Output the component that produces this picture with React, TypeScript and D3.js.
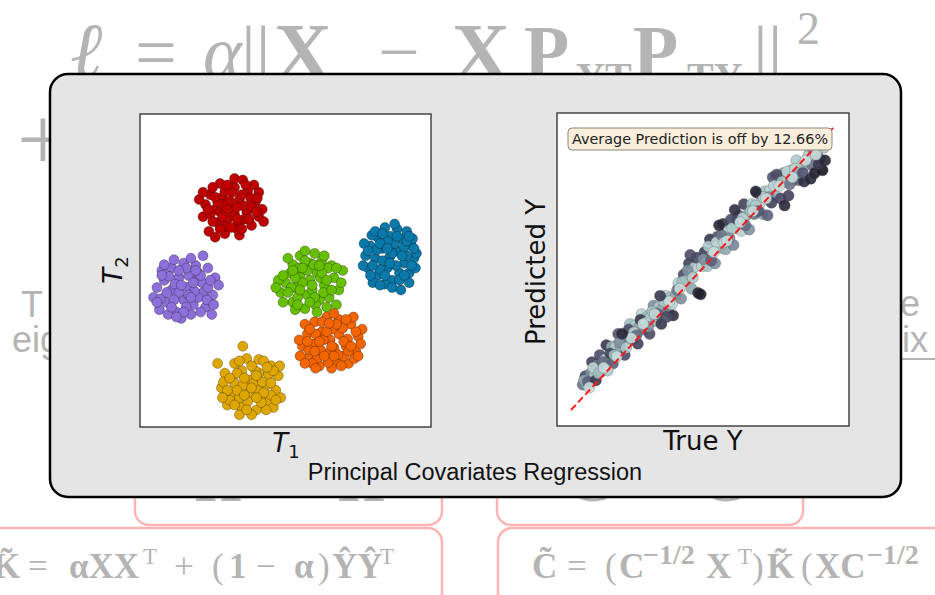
import * as d3 from 'd3';

// ---- left panel: PCovR latent projection (T1, T2), one array per cluster ----
const redCluster: [number, number][] = [
  [-1.12, 1.3], [-0.95, 1.45], [-1.3, 1.5], [-1.45, 1.25], [-0.8, 1.2], [-1.2, 1.05], [-0.98, 0.95], [-1.55, 1.55],
  [-1.65, 1.35], [-1.35, 1.78], [-1.05, 1.7], [-0.78, 1.62], [-0.62, 1.4], [-0.55, 1.1], [-0.7, 0.92], [-1.4, 0.98],
  [-1.58, 0.8], [-1.25, 0.75], [-0.95, 0.72], [-1.05, 1.88], [-1.25, 1.62], [-0.88, 1.85], [-1.5, 1.7], [-1.78, 1.45],
  [-1.7, 1.1], [-0.48, 1.25], [-0.65, 1.75], [-1.15, 1.42], [-0.85, 1.32], [-1.35, 1.2], [-1.05, 1.15], [-0.85, 1.05],
  [-1.55, 1.15], [-1.25, 0.9], [-0.45, 1.0], [-1.45, 0.68], [-1.0, 0.85], [-1.3, 1.35], [-0.72, 1.48], [-0.55, 1.6],
  [-1.2, 1.25], [-0.9, 1.55], [-1.4, 1.4], [-1.0, 1.3], [-0.7, 1.3], [-1.1, 1.6], [-1.5, 1.0], [-0.9, 0.85],
  [-1.3, 1.1], [-0.6, 1.2], [-1.2, 1.75], [-1.6, 1.25], [-0.75, 1.05], [-1.0, 1.05], [-1.35, 0.85], [-0.82, 1.75],
  [-1.45, 1.5], [-0.58, 1.48], [-1.12, 0.88], [-1.7, 1.6],
];
const purpleCluster: [number, number][] = [
  [-2.03, -0.34], [-1.85, -0.2], [-2.2, -0.15], [-2.35, -0.4], [-1.7, -0.45], [-2.1, -0.6], [-1.9, -0.7], [-2.5, -0.2],
  [-2.65, -0.35], [-2.45, -0.65], [-2.25, -0.85], [-1.95, -0.9], [-1.65, -0.75], [-1.5, -0.5], [-1.45, -0.15], [-1.6, 0.05],
  [-1.85, 0.1], [-2.1, 0.15], [-2.35, 0.05], [-2.55, 0.0], [-2.72, -0.55], [-2.6, -0.8], [-2.15, -0.98], [-1.8, -0.55],
  [-2.0, -0.1], [-2.28, -0.28], [-1.72, -0.25], [-2.4, -0.12], [-1.95, 0.25], [-1.7, 0.3], [-1.38, -0.3], [-1.52, -0.9],
  [-2.42, -0.9], [-2.2, -0.45], [-1.88, -0.42], [-2.58, -0.58], [-2.05, -0.75], [-1.62, -0.6], [-2.3, 0.22], [-1.8, -0.05],
  [-2.0, -0.5], [-2.3, -0.6], [-1.75, -0.1], [-2.15, -0.3], [-1.9, -0.25], [-2.45, -0.45], [-1.6, -0.35], [-2.05, 0.05],
  [-2.35, -0.75], [-1.75, -0.85], [-2.55, -0.1], [-1.55, -0.2], [-2.2, 0.0], [-1.95, -0.55], [-2.65, -0.65], [-1.85, 0.0],
  [-2.1, -0.85], [-1.48, -0.7], [-2.5, 0.12], [-2.25, -0.95],
];
const greenCluster: [number, number][] = [
  [0.5, -0.2], [0.65, -0.05], [0.3, -0.1], [0.2, -0.35], [0.8, -0.3], [0.45, -0.5], [0.7, -0.6], [0.1, -0.05],
  [0.0, -0.25], [-0.1, -0.45], [0.15, -0.65], [0.4, -0.78], [0.9, -0.55], [1.0, -0.15], [0.95, 0.1], [0.75, 0.2],
  [0.5, 0.15], [0.3, 0.3], [0.15, 0.12], [-0.15, -0.2], [0.6, 0.35], [0.85, -0.75], [0.25, -0.55], [0.55, -0.4],
  [0.35, -0.25], [0.72, -0.15], [1.1, -0.4], [1.18, 0.0], [0.05, 0.25], [0.4, 0.4], [0.62, -0.7], [-0.05, -0.65],
  [0.88, 0.05], [0.28, 0.05], [0.45, 0.0], [0.2, -0.8], [0.78, -0.45], [1.05, -0.7], [0.12, -0.35], [0.58, 0.12],
  [0.55, -0.3], [0.3, -0.4], [0.75, -0.05], [0.2, -0.15], [0.6, -0.55], [0.85, -0.2], [0.05, -0.45], [0.4, 0.2],
  [0.95, -0.4], [0.25, -0.7], [0.7, 0.1], [-0.05, -0.1], [0.5, -0.65], [1.05, 0.05], [0.35, 0.05], [0.15, 0.0],
  [0.8, 0.3], [0.65, -0.85], [1.15, -0.25], [-0.2, -0.35],
];
const blueCluster: [number, number][] = [
  [2.15, 0.28], [2.3, 0.4], [2.0, 0.45], [1.85, 0.25], [2.45, 0.15], [2.1, 0.05], [2.35, -0.05], [1.75, 0.5],
  [1.65, 0.3], [1.7, 0.05], [1.9, -0.1], [2.2, -0.2], [2.55, -0.05], [2.65, 0.25], [2.6, 0.5], [2.4, 0.65],
  [2.15, 0.7], [1.9, 0.68], [2.3, 0.85], [2.05, 0.88], [1.62, 0.55], [2.7, 0.35], [2.5, 0.8], [1.8, -0.25],
  [2.05, -0.28], [2.38, -0.4], [2.55, -0.25], [2.0, 0.2], [2.25, 0.55], [1.95, 0.02], [2.5, 0.3], [1.78, 0.72],
  [2.68, 0.05], [2.28, 0.1], [2.1, 0.6], [1.6, 0.1], [2.45, 0.48], [2.2, -0.35], [1.88, 0.42], [2.62, 0.65],
  [2.2, 0.35], [1.95, 0.55], [2.4, 0.3], [2.05, -0.1], [1.8, 0.1], [2.5, 0.6], [2.3, 0.7], [1.7, 0.4],
  [2.6, 0.1], [2.15, 0.15], [2.35, -0.2], [1.85, 0.8], [2.0, 0.75], [2.45, -0.1], [1.75, -0.1], [2.65, 0.45],
  [2.25, 0.95], [1.95, -0.3], [2.55, 0.7], [2.1, 0.45],
];
const orangeCluster: [number, number][] = [
  [0.92, -1.42], [1.1, -1.3], [0.75, -1.25], [0.6, -1.5], [1.25, -1.55], [0.85, -1.7], [1.05, -1.85], [0.45, -1.3],
  [0.35, -1.55], [0.5, -1.75], [0.7, -1.95], [0.95, -2.0], [1.3, -1.9], [1.45, -1.65], [1.5, -1.35], [1.35, -1.1],
  [1.1, -1.0], [0.85, -0.95], [0.6, -1.05], [0.4, -1.1], [0.28, -1.42], [1.55, -1.5], [1.2, -1.75], [0.65, -1.8],
  [1.0, -1.58], [0.78, -1.42], [1.18, -1.18], [0.95, -1.2], [0.55, -1.9], [1.4, -0.95], [0.3, -1.75], [1.58, -1.2],
  [1.08, -1.72], [0.48, -1.62], [0.88, -1.88], [1.28, -1.4], [0.62, -1.3], [1.0, -0.88], [1.42, -1.8], [0.72, -1.62],
  [0.95, -1.55], [0.7, -1.45], [1.2, -1.45], [0.85, -1.25], [1.05, -1.1], [0.6, -1.65], [1.3, -1.65], [0.8, -1.75],
  [1.15, -1.95], [0.45, -1.45], [1.45, -1.25], [0.75, -1.05], [1.25, -1.0], [0.5, -1.2], [1.0, -1.75], [0.4, -1.9],
  [1.5, -1.75], [0.9, -1.08], [1.35, -1.55], [0.62, -2.0],
];
const yellowCluster: [number, number][] = [
  [-0.73, -2.24], [-0.55, -2.1], [-0.9, -2.05], [-1.05, -2.3], [-0.4, -2.35], [-0.75, -2.5], [-0.5, -2.6], [-1.1, -2.55],
  [-1.2, -2.75], [-0.9, -2.8], [-0.6, -2.85], [-0.35, -2.7], [-0.2, -2.45], [-0.15, -2.15], [-0.3, -1.95], [-0.55, -1.82],
  [-0.8, -1.8], [-1.05, -1.9], [-1.25, -2.1], [-1.32, -2.4], [-0.88, -1.55], [-1.4, -1.9], [-0.1, -2.6], [-0.95, -2.95],
  [-0.7, -2.95], [-0.45, -1.85], [-0.65, -2.3], [-0.88, -2.35], [-0.35, -2.12], [-1.15, -2.65], [-0.55, -2.45], [-1.0, -2.1],
  [-0.25, -2.8], [-0.78, -2.68], [-1.28, -2.28], [-0.48, -2.28], [-0.62, -2.05], [-0.95, -2.6], [-0.12, -1.95], [-0.3, -2.55],
  [-0.7, -2.4], [-0.85, -2.2], [-0.45, -2.5], [-1.0, -2.45], [-0.6, -2.15], [-0.3, -2.3], [-1.15, -2.2], [-0.8, -2.85],
  [-0.4, -2.85], [-1.05, -2.75], [-0.25, -2.05], [-0.7, -1.95], [-0.95, -1.85], [-1.2, -2.45], [-0.5, -2.7], [-0.2, -2.65],
  [-0.6, -2.6], [-0.85, -2.55], [-0.38, -1.98], [-1.3, -2.6],
];
const clusters = [redCluster, purpleCluster, greenCluster, blueCluster, orangeCluster, yellowCluster];
const clusterColors = ['#bf0000', '#8c6fd9', '#66bf00', '#0a78a8', '#f26500', '#dea600'];

// ---- right panel: true vs predicted Y, [trueY, predictedY, shade] ----
const predictions: [number, number, number][] = [
  [0.45, 0.9, 0.5], [0.55, 1.2, 0.3], [0.6, 0.9, 0.8], [0.75, 1.3, 0.6], [0.8, 1.7, 0.25], [0.9, 1.25, 0.85],
  [1.0, 1.6, 0.5], [1.1, 1.95, 0.3], [1.15, 1.35, 0.7], [1.3, 1.8, 0.9], [1.35, 2.3, 0.2], [1.45, 1.75, 0.6],
  [1.55, 2.25, 0.75], [1.6, 1.65, 0.4], [1.7, 2.25, 0.85], [1.8, 2.7, 0.35], [1.9, 2.2, 0.7], [2.0, 2.6, 0.9],
  [2.05, 1.95, 0.3], [2.15, 2.6, 0.6], [2.25, 3.05, 0.8], [2.35, 2.5, 0.5], [2.45, 3.0, 0.85], [2.55, 2.35, 0.25],
  [2.6, 2.95, 0.7], [2.7, 3.4, 0.9], [2.8, 2.85, 0.55], [2.9, 3.3, 0.8], [3.0, 2.7, 0.3], [3.05, 3.3, 0.9],
  [3.15, 3.7, 0.6], [3.25, 3.15, 0.75], [3.35, 3.65, 0.85], [3.45, 3.05, 0.2], [3.5, 3.6, 0.7], [3.6, 4.05, 0.9],
  [3.7, 3.5, 0.5], [3.8, 4.0, 0.8], [3.9, 3.35, 0.15], [4.0, 4.05, 0.75], [4.1, 4.5, 0.9], [4.2, 3.95, 0.6],
  [4.3, 4.8, 0.3], [4.4, 4.6, 0.9], [4.5, 5.2, 0.25], [4.6, 4.3, 0.7], [4.7, 5.05, 0.85], [4.85, 4.15, 0.1],
  [4.95, 4.1, 0.05], [4.8, 5.4, 0.3], [5.0, 5.1, 0.9],
  [5.1, 5.6, 0.25], [5.2, 5.1, 0.8], [5.3, 6.05, 0.2], [5.4, 5.6, 0.9], [5.5, 5.2, 0.6], [5.6, 6.15, 0.35],
  [5.7, 5.75, 0.85], [5.8, 6.6, 0.2], [5.9, 5.7, 0.7], [6.0, 6.35, 0.9], [6.1, 6.75, 0.3], [6.2, 5.85, 0.55],
  [6.3, 6.45, 0.85], [6.4, 6.9, 0.45], [6.5, 6.35, 0.9], [6.6, 7.3, 0.25], [6.7, 6.9, 0.75], [6.8, 6.4, 0.6],
  [6.9, 7.3, 0.85], [7.0, 6.95, 0.5], [7.1, 7.7, 0.3], [7.2, 7.3, 0.9], [7.3, 6.95, 0.7], [7.4, 7.75, 0.8],
  [7.5, 6.9, 0.4], [7.6, 7.8, 0.9], [7.7, 8.25, 0.35], [7.8, 7.6, 0.75], [7.9, 8.05, 0.85], [8.0, 7.5, 0.3],
  [8.1, 8.4, 0.7], [8.2, 8.1, 0.9], [8.3, 7.6, 0.25], [8.4, 8.5, 0.8], [8.5, 8.15, 0.6], [8.6, 8.85, 0.85],
  [8.7, 8.15, 0.4], [8.8, 8.65, 0.9], [8.9, 8.1, 0.15], [9.0, 8.7, 0.7], [9.1, 9.1, 0.85], [9.2, 8.7, 0.5],
  [9.3, 8.4, 0.05], [9.4, 9.15, 0.8], [9.5, 8.9, 0.4], [9.6, 8.5, 0.0], [9.55, 9.45, 0.75],
  [0.5, 1.05, 0.7], [0.65, 1.0, 0.4], [0.85, 1.5, 0.9], [0.95, 1.05, 0.2], [1.05, 1.3, 0.8], [1.2, 1.7, 0.45],
  [1.4, 1.4, 0.85], [1.5, 2.0, 0.25], [1.65, 1.95, 0.8], [1.85, 2.4, 0.6], [2.1, 2.2, 0.85], [2.2, 2.85, 0.3],
  [2.4, 2.75, 0.9], [2.5, 2.65, 0.45], [2.65, 3.2, 0.2], [2.85, 3.1, 0.9], [2.95, 2.95, 0.6], [3.1, 3.5, 0.8],
  [3.3, 3.4, 0.4], [3.55, 3.85, 0.85], [3.65, 3.3, 0.3], [3.85, 3.75, 0.9], [4.05, 4.25, 0.5], [4.25, 4.55, 0.8],
  [4.45, 4.95, 0.6], [4.65, 4.7, 0.85], [5.05, 5.35, 0.6], [5.25, 5.8, 0.85], [5.35, 5.3, 0.4], [5.55, 5.95, 0.9],
  [5.75, 6.2, 0.5], [5.85, 5.95, 0.95], [6.05, 6.1, 0.6], [6.15, 6.45, 0.85], [6.35, 6.75, 0.3], [6.55, 6.8, 0.9],
  [6.65, 6.55, 0.45], [6.85, 7.05, 0.8], [7.05, 7.25, 0.85], [7.15, 7.05, 0.35], [7.35, 7.55, 0.9], [7.55, 7.55, 0.6],
  [7.65, 7.35, 0.25], [7.75, 7.95, 0.9], [7.85, 8.35, 0.3], [8.05, 8.1, 0.8], [8.25, 8.45, 0.9], [8.35, 8.0, 0.5],
  [8.55, 8.55, 0.9], [8.65, 8.4, 0.7], [8.85, 8.4, 0.35], [9.05, 9.0, 0.9], [9.25, 9.2, 0.6], [9.45, 8.7, 0.2],
  [9.65, 9.3, 0.85], [9.7, 8.85, 0.1],
  [0.7, 0.8, 0.95], [1.25, 1.5, 0.95], [1.75, 1.9, 0.95], [2.3, 2.55, 0.95], [2.75, 3.05, 0.95], [3.2, 3.4, 0.95],
  [3.75, 3.85, 0.95], [4.15, 4.3, 0.95], [5.45, 5.6, 0.95], [5.95, 6.0, 0.95], [6.45, 6.65, 0.95], [6.95, 7.05, 0.95],
  [7.45, 7.5, 0.95], [7.95, 7.95, 0.95], [8.45, 8.25, 0.95], [8.95, 8.85, 0.95], [9.35, 9.05, 0.95],
  [1.95, 2.7, 0.1], [3.4, 4.05, 0.2], [5.65, 6.55, 0.1], [6.25, 7.1, 0.15], [7.05, 7.75, 0.1], [8.15, 7.25, 0.1],
  [9.15, 8.2, 0.1], [4.55, 5.5, 0.3],
];
const idealLine = [0, 10];
const errorNote = 'Average Prediction is off by 12.66%';

const W = 935;
const H = 595;
const GREY = '#b4b4b4';
const PINK = '#ffb4b4';
const MPL = 'DejaVu Sans, sans-serif';
const SERIF = 'Liberation Serif, DejaVu Serif, serif';

// matplotlib "bone" colormap
const bone = d3
  .scaleLinear<string>()
  .domain([0, 0.365, 0.746, 1])
  .range(['#000000', '#515170', '#a6c6c6', '#ffffff'])
  .interpolate(d3.interpolateRgb);

export default function App() {
  // left axes
  const x1 = d3.scaleLinear().domain([-3, 3]).range([140, 431]);
  const y1 = d3.scaleLinear().domain([-3.2, 3.2]).range([427, 114]);
  // right axes
  const x2 = d3.scaleLinear().domain([-0.534, 10.61]).range([557, 849]);
  const y2 = d3.scaleLinear().domain([-0.567, 10.53]).range([426, 113]);

  const line = d3.line<number>().x((d) => x2(d)).y((d) => y2(d));

  return (
    <div style={{ position: 'fixed', left: 0, top: 0 }}>
      <svg width={W} height={H} style={{ display: 'block', background: '#fff' }}>
        {/* slide behind the figure */}
        <g fill={GREY} fontFamily={SERIF}>
          <text x={70} y={77} fontSize={78} fontStyle="italic" fontFamily="DejaVu Serif, serif">ℓ</text>
          <text x={135} y={77} fontSize={74}>=</text>
          <text x={203} y={77} fontSize={74} fontStyle="italic">α</text>
          <text x={241} y={77} fontSize={74}>||</text>
          <text x={274} y={79} fontSize={80} fontWeight="bold">X</text>
          <text x={378} y={77} fontSize={74}>−</text>
          <text x={452} y={79} fontSize={80} fontWeight="bold">X</text>
          <text x={524} y={77} fontSize={74} fontWeight="bold">P</text>
          <text x={576} y={90} fontSize={40} fontWeight="bold">YT</text>
          <text x={633} y={77} fontSize={74} fontWeight="bold">P</text>
          <text x={687} y={90} fontSize={40} fontWeight="bold">TY</text>
          <text x={753} y={77} fontSize={74}>||</text>
          <text x={797} y={44} fontSize={46}>2</text>
          <text x={43} y={170} fontSize={92} textAnchor="middle">+</text>
        </g>
        <g fill={GREY} fontFamily="Liberation Sans, Arial, sans-serif" fontSize={36}>
          <text x={21} y={317}>T</text>
          <text x={12} y={352}>eig</text>
          <text x={920} y={316} textAnchor="end">e</text>
          <text x={902} y={352}>ix</text>
        </g>
        <line x1={902} x2={935} y1={359} y2={359} stroke={GREY} strokeWidth={2} />

        {/* pink formula boxes */}
        <g fill="none" stroke={PINK} strokeWidth={2.5}>
          <rect x={135} y={380} width={307} height={145} rx={14} />
          <rect x={497} y={380} width={306} height={145} rx={14} />
          <rect x={-30} y={528} width={472} height={110} rx={14} />
          <rect x={498} y={528} width={480} height={110} rx={14} />
        </g>
        <g fill={GREY} fontFamily={SERIF} fontWeight="bold" fontSize={60}>
          <text x={195} y={501}>H</text>
          <text x={338} y={501}>H</text>
          <text x={568} y={501}>C</text>
          <text x={701} y={501}>C</text>
        </g>
        <text y={578} fill={GREY} fontFamily={SERIF} fontSize={35}>
          <tspan x={-7} fontWeight="bold">K̃</tspan>
          <tspan x={28}>=</tspan>
          <tspan x={69} fontWeight="bold">αXX</tspan>
          <tspan x={143} dy={-14} fontSize={23}>T</tspan>
          <tspan x={174} dy={14}>+</tspan>
          <tspan x={212}>(</tspan>
          <tspan x={229} fontWeight="bold">1</tspan>
          <tspan x={256}>−</tspan>
          <tspan x={294} fontWeight="bold">α</tspan>
          <tspan x={318}>)</tspan>
          <tspan x={332} fontWeight="bold">ŶŶ</tspan>
          <tspan x={380} dy={-14} fontSize={23}>T</tspan>
        </text>
        <text y={578} fill={GREY} fontFamily={SERIF} fontSize={35}>
          <tspan x={532} fontWeight="bold">C̃</tspan>
          <tspan x={567}>=</tspan>
          <tspan x={605}>(</tspan>
          <tspan x={619} fontWeight="bold">C</tspan>
          <tspan x={643} dy={-14} fontSize={28} fontWeight="bold">−1/2</tspan>
          <tspan x={706} dy={14} fontWeight="bold">X</tspan>
          <tspan x={738} dy={-14} fontSize={23}>T</tspan>
          <tspan x={752} dy={14}>)</tspan>
          <tspan x={767} fontWeight="bold">K̃</tspan>
          <tspan x={801}>(</tspan>
          <tspan x={815} fontWeight="bold">XC</tspan>
          <tspan x={867} dy={-14} fontSize={28} fontWeight="bold">−1/2</tspan>
        </text>

        {/* figure panel */}
        <rect x={50} y={74} width={851} height={423} rx={18} fill="#e5e5e5" stroke="#000" strokeWidth={2.5} />

        {/* left axes */}
        <rect x={140} y={114} width={291} height={313} fill="#fff" />
        <g>
          {clusters.map((pts, ci) =>
            pts.map((p, i) => (
              <circle
                key={`${ci}-${i}`}
                cx={x1(p[0])}
                cy={y1(p[1])}
                r={5}
                fill={clusterColors[ci]}
                stroke="#000"
                strokeOpacity={0.35}
                strokeWidth={0.8}
              />
            ))
          )}
        </g>
        <rect x={140} y={114} width={291} height={313} fill="none" stroke="#3a3a3a" strokeWidth={1.4} />
        <text x={286} y={452} textAnchor="middle" fontFamily={MPL} fontSize={26} fill="#111">
          <tspan fontStyle="italic">T</tspan>
          <tspan fontSize={18} dy={6}>1</tspan>
        </text>
        <text transform="translate(122,270) rotate(-90)" textAnchor="middle" fontFamily={MPL} fontSize={26} fill="#111">
          <tspan fontStyle="italic">T</tspan>
          <tspan fontSize={18} dy={6}>2</tspan>
        </text>

        {/* right axes */}
        <rect x={557} y={113} width={292} height={313} fill="#fff" />
        <g>
          {predictions.map((p, i) => (
            <circle
              key={i}
              cx={x2(p[0])}
              cy={y2(p[1])}
              r={5.6}
              fill={bone(0.1 + 0.78 * p[2])}
              fillOpacity={0.9}
              stroke="#333"
              strokeOpacity={0.35}
              strokeWidth={0.7}
            />
          ))}
        </g>
        <path d={line(idealLine) ?? ''} stroke="#ff1a1a" strokeWidth={2} strokeDasharray="7,3.5" fill="none" />
        <rect x={568} y={128} width={264} height={22} rx={4} fill="#f9eddb" stroke="#8f8678" strokeWidth={1} />
        <text x={700} y={144} textAnchor="middle" fontFamily={MPL} fontSize={14.4} fill="#222">
          {errorNote}
        </text>
        <rect x={557} y={113} width={292} height={313} fill="none" stroke="#3a3a3a" strokeWidth={1.4} />
        <text x={703} y={450} textAnchor="middle" fontFamily={MPL} fontSize={26} fill="#111">True Y</text>
        <text transform="translate(545,272) rotate(-90)" textAnchor="middle" fontFamily={MPL} fontSize={26} fill="#111">
          Predicted Y
        </text>

        <text x={475} y={480} textAnchor="middle" fontFamily="Liberation Sans, Arial, sans-serif" fontSize={23.5} fill="#111">
          Principal Covariates Regression
        </text>
      </svg>
    </div>
  );
}
